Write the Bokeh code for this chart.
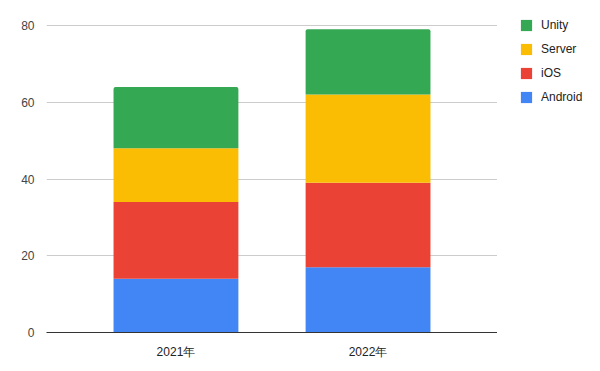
from bokeh.plotting import figure
from bokeh.layouts import row
from bokeh.models import FactorRange, Range1d, Legend, LegendItem, SingleIntervalTicker, ColumnDataSource
from bokeh.embed import file_html
from bokeh.resources import INLINE

years = ["2021年", "2022年"]
series = ["Android", "iOS", "Server", "Unity"]
android = [14, 17]
ios = [20, 22]
server = [14, 23]
unity = [16, 17]
colors = ["#4285F4", "#EA4335", "#FBBC04", "#34A853"]

source = ColumnDataSource(dict(years=years, Android=android, iOS=ios, Server=server, Unity=unity))

FONT = "Liberation Sans"

# plot area spans 18..332 px; the 80 gridline sits at 25 px as in the reference
Y_MAX = 80 * 314 / 307

p = figure(width=497, height=371, output_backend="svg", toolbar_location=None,
           x_range=FactorRange(*years, range_padding=0.174, range_padding_units="absolute"),
           y_range=Range1d(0, Y_MAX),
           min_border_left=46, min_border_right=0, min_border_top=18, min_border_bottom=39)

renderers = p.vbar_stack(series, x="years", width=0.65, color=colors, source=source,
                         line_color=None)
try:
    renderers[-1].glyph.border_radius = (2, 2, 0, 0)
except Exception:
    pass

p.outline_line_color = None
p.background_fill_color = "white"
p.border_fill_color = "white"

p.yaxis.ticker = SingleIntervalTicker(interval=20)
p.yaxis.axis_line_color = None
p.yaxis.major_tick_line_color = None
p.yaxis.minor_tick_line_color = None
p.yaxis.major_label_text_font = FONT
p.yaxis.major_label_text_font_size = "12px"
p.yaxis.major_label_text_color = "#444444"
p.yaxis.major_label_standoff = 6

p.xaxis.axis_line_color = "#333333"
p.xaxis.axis_line_width = 1
p.xaxis.major_tick_line_color = None
p.xaxis.minor_tick_line_color = None
p.xaxis.major_label_text_font = FONT
p.xaxis.major_label_text_font_size = "12px"
p.xaxis.major_label_text_color = "#222222"
p.xaxis.major_label_standoff = 6

p.xgrid.grid_line_color = None
p.ygrid.grid_line_color = "#cccccc"
p.ygrid.grid_line_width = 1

# legend panel (separate figure so the legend can sit beside the plot area)
q = figure(width=103, height=371, output_backend="svg", toolbar_location=None,
           x_range=Range1d(0, 1), y_range=Range1d(0, 1),
           x_axis_location=None, y_axis_location=None,
           min_border_left=22, min_border_right=0, min_border_top=18, min_border_bottom=39)
q.grid.visible = False
q.outline_line_color = None
q.background_fill_color = "white"
q.border_fill_color = "white"

# legend swatches: share the series colours; drawn outside q's visible range
dummy = [q.vbar(x=[5], top=[5], width=0.5, color=c, line_color=None) for c in colors]
items = [LegendItem(label=s, renderers=[r]) for s, r in zip(series, dummy)][::-1]
legend = Legend(items=items, location="top_left", padding=0, margin=0,
                border_line_color=None, background_fill_alpha=0,
                glyph_width=14, glyph_height=14, label_height=14, spacing=10,
                label_standoff=8, label_text_font=FONT, label_text_font_size="12px",
                label_text_color="#222222")
q.add_layout(legend)

layout = row(p, q)
open("out.html", "w").write(file_html(layout, INLINE))
